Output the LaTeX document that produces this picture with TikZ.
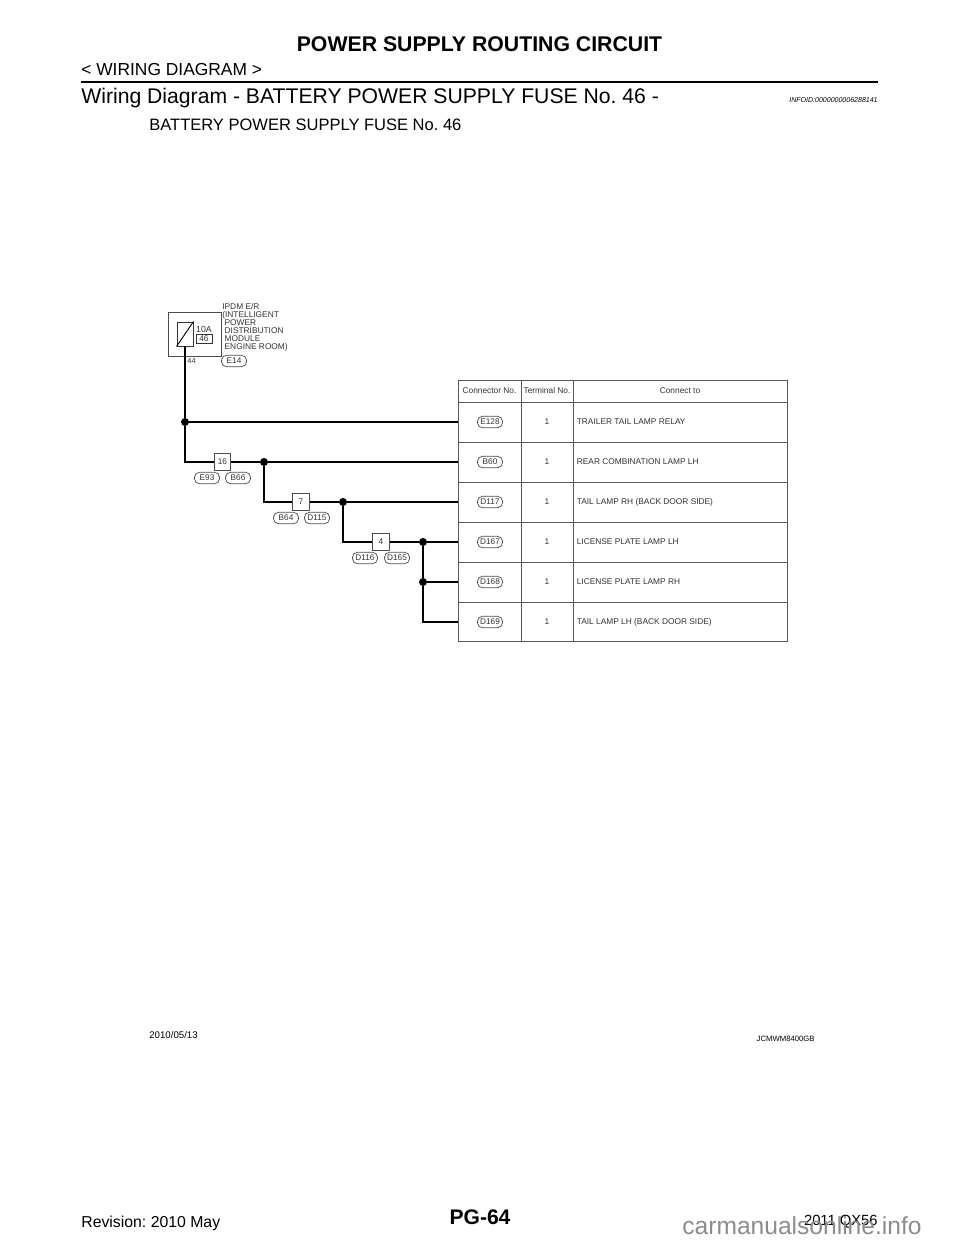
\documentclass[tikz,border=0pt]{standalone}
\usepackage{fontspec}
\setmainfont{Liberation Sans}
\usepackage{tikz}
\frenchspacing

\tikzset{
  wire/.style={line width=1.15pt},
  rule/.style={line width=0.55pt, black!65},
  dot/.style={circle, fill=black, inner sep=0pt, minimum size=0.16cm},
  pill/.style={draw=black!70, line width=0.4pt, rounded corners=0.1cm, minimum width=0.5cm, minimum height=0.23cm, inner sep=0pt, font=\fontsize{4.7}{5}\selectfont, text=black!80},
  joint/.style={draw=black!70, fill=white, line width=0.5pt, minimum size=0.33cm, inner sep=0pt, font=\fontsize{4.7}{5}\selectfont, text=black!80},
  cell/.style={font=\fontsize{4.75}{5}\selectfont, text=black!80, inner sep=0pt},
  lefttext/.style={cell, anchor=west},
  page/.style={inner sep=0pt, anchor=west}
}

\begin{document}
\begin{tikzpicture}[x=0.02cm, y=-0.02cm]
\useasboundingbox (0,0) rectangle (960,1242);

% Define row heights for the table
\def\rowh{391}
\def\rowa{422}
\def\rowb{462}
\def\rowc{502}
\def\rowd{542}
\def\rowe{582}
\def\rowf{622}

% Page header
\node[inner sep=0pt] (title) at (479.5, 44) {\fontsize{12.1}{13}\selectfont\bfseries POWER SUPPLY ROUTING CIRCUIT};
\node[page] (section) at (81, 70) {\fontsize{9.9}{11}\selectfont < WIRING DIAGRAM >};
\draw[line width=1.6pt] (81, 82) -- (878, 82);
\node[page] (heading) at (81, 98) {\fontsize{12.05}{14}\selectfont Wiring Diagram - BATTERY POWER SUPPLY FUSE No. 46 -};
\node[inner sep=0pt, anchor=east] (infoid) at (878, 100) {\fontsize{4}{5}\selectfont\itshape INFOID:0000000006288141};
\node[page] (subtitle) at (149, 125) {\fontsize{9.4}{11}\selectfont BATTERY POWER SUPPLY FUSE No. 46};

% IPDM E/R box
\node[draw=black!70, line width=0.55pt, minimum width=1.06cm, minimum height=0.88cm, inner sep=0pt] (ipdm) at (194.5, 334) {};
\node[draw=black!80, line width=0.55pt, minimum width=0.32cm, minimum height=0.48cm, inner sep=0pt] (fusible) at (185, 334) {};
\draw[line width=0.5pt] (fusible.south west) -- (fusible.north east);
\node[cell] (amps) at (204, 329) {\fontsize{5}{6}\selectfont 10A};
\node[draw=black!80, line width=0.55pt, minimum width=0.32cm, minimum height=0.18cm, inner sep=0pt, cell] (fuseno) at (204, 339) {46};
\node[cell, font=\fontsize{4.2}{5}\selectfont] (termno) at (191.5, 361) {44};
\node[lefttext, align=left, font=\fontsize{4.75}{4.55}\selectfont] (ipdmname) at (222, 327.5) {IPDM E/R\\(INTELLIGENT\\\ POWER\\\ DISTRIBUTION\\\ MODULE\\\ ENGINE ROOM)};
\node[pill] (e14) at (234, 361) {E14};

% Table
\draw[rule] (458, 380) rectangle (787, 641);
\draw[rule] (521, 380) -- (521, 641);
\draw[rule] (573, 380) -- (573, 641);
\draw[rule] (458, 402) -- (787, 402);
\draw[rule] (458, 442) -- (787, 442);
\draw[rule] (458, 482) -- (787, 482);
\draw[rule] (458, 522) -- (787, 522);
\draw[rule] (458, 562) -- (787, 562);
\draw[rule] (458, 602) -- (787, 602);

% Header row
\node[cell] (hconn) at (489.5, \rowh) {Connector No.};
\node[cell] (hterm) at (547, \rowh) {Terminal No.};
\node[cell] (hto) at (680, \rowh) {Connect to};

% Connector column
\node[pill, fill=white] (e128) at (490, \rowa) {E128};
\node[pill, fill=white] (b60) at (490, \rowb) {B60};
\node[pill, fill=white] (d117) at (490, \rowc) {D117};
\node[pill, fill=white] (d167) at (490, \rowd) {D167};
\node[pill, fill=white] (d168) at (490, \rowe) {D168};
\node[pill, fill=white] (d169) at (490, \rowf) {D169};

% Terminal column
\node[cell] (ta) at (547, \rowa) {1};
\node[cell] (tb) at (547, \rowb) {1};
\node[cell] (tc) at (547, \rowc) {1};
\node[cell] (td) at (547, \rowd) {1};
\node[cell] (te) at (547, \rowe) {1};
\node[cell] (tf) at (547, \rowf) {1};

% Connect to column
\node[lefttext] (la) at (576.5, \rowa) {TRAILER TAIL LAMP RELAY};
\node[lefttext] (lb) at (576.5, \rowb) {REAR COMBINATION LAMP LH};
\node[lefttext] (lc) at (576.5, \rowc) {TAIL LAMP RH (BACK DOOR SIDE)};
\node[lefttext] (ld) at (576.5, \rowd) {LICENSE PLATE LAMP LH};
\node[lefttext] (le) at (576.5, \rowe) {LICENSE PLATE LAMP RH};
\node[lefttext] (lf) at (576.5, \rowf) {TAIL LAMP LH (BACK DOOR SIDE)};

% Wire ends on the table edge
\coordinate (enda) at (458, \rowa);
\coordinate (endb) at (458, \rowb);
\coordinate (endc) at (458, \rowc);
\coordinate (endd) at (458, \rowd);
\coordinate (ende) at (458, \rowe);
\coordinate (endf) at (458, \rowf);

% Joints and splices
\node[dot] (sa) at (185, \rowa) {};
\node[joint] (j16) at (222.5, \rowb) {16};
\node[dot] (sb) at (264, \rowb) {};
\node[joint] (j7) at (301, \rowc) {7};
\node[dot] (sc) at (343, \rowc) {};
\node[joint] (j4) at (381, \rowd) {4};
\node[dot] (sd) at (423, \rowd) {};
\node[dot] (se) at (423, \rowe) {};

% Joint connector names
\node[pill] (e93) at (207, 478) {E93};
\node[pill] (b66) at (238, 478) {B66};
\node[pill] (b64) at (286, 518) {B64};
\node[pill] (d115) at (317, 518) {D115};
\node[pill] (d116) at (365, 558) {D116};
\node[pill] (d165) at (397, 558) {D165};

% Wires
\draw[wire] (fusible.south) -- (sa);
\draw[wire] (sa) -- (enda);
\draw[wire] (sa) |- (j16);
\draw[wire] (j16) -- (sb);
\draw[wire] (sb) -- (endb);
\draw[wire] (sb) |- (j7);
\draw[wire] (j7) -- (sc);
\draw[wire] (sc) -- (endc);
\draw[wire] (sc) |- (j4);
\draw[wire] (j4) -- (sd);
\draw[wire] (sd) -- (endd);
\draw[wire] (sd) -- (se);
\draw[wire] (se) -- (ende);
\draw[wire] (se) |- (endf);

% Page footer
\node[page] (date) at (149, 1035) {\fontsize{5.5}{6}\selectfont 2010/05/13};
\node[inner sep=0pt, anchor=east] (code) at (815, 1039) {\fontsize{4.4}{5}\selectfont JCMWM8400GB};
\node[page] (revision) at (81, 1223) {\fontsize{9}{10}\selectfont Revision: 2010 May};
\node[inner sep=0pt] (pageno) at (480, 1217) {\fontsize{12}{14}\selectfont\bfseries PG-64};
\node[inner sep=0pt, anchor=east] (model) at (878, 1222) {\fontsize{8.4}{10}\selectfont 2011 QX56};
\node[inner sep=0pt, anchor=west, text=black!45] (site) at (682, 1226) {\fontsize{14}{16}\selectfont carmanualsonline.info};

\end{tikzpicture}
\end{document}
